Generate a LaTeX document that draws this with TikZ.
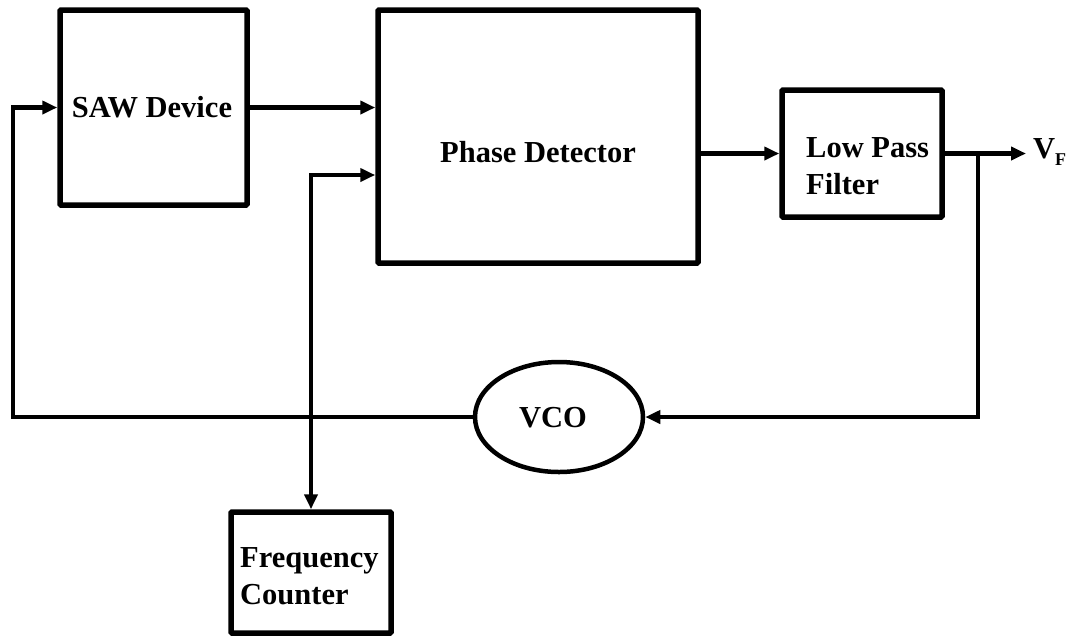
\documentclass[tikz,border=0pt]{standalone}
\usepackage{fontspec}
\setmainfont{Liberation Serif}
\usetikzlibrary{arrows.meta,shapes.geometric}
\begin{document}
\begin{tikzpicture}[x=1pt,y=-1pt,
  blk/.style={draw,line width=5.5pt,rounded corners=1pt,inner sep=0pt},
  wire/.style={line width=4.2pt,line join=miter},
  tip/.tip={Triangle[length=15pt,width=13pt]},
  conn/.style={wire,-tip},
  lbl/.style={font=\fontsize{30.5}{37}\selectfont\bfseries,inner sep=0pt}]
\useasboundingbox (0,0) rectangle (1075,641);
% blocks
\node[blk,minimum width=187pt,minimum height=195pt] (saw) at (153.5,107.5) {};
\node[lbl] (sawt) at (152,107) {SAW Device};
\node[blk,minimum width=320pt,minimum height=253pt] (pd) at (538,136.5) {};
\node[lbl] (pdt) at (538,152) {Phase Detector};
\node[blk,minimum width=160pt,minimum height=127pt] (lpf) at (862,153.5) {};
\node[lbl,align=left,anchor=west] (lpft) at (806,166) {Low Pass\\Filter};
\node[blk,minimum width=160pt,minimum height=121pt] (fc) at (311,572.5) {};
\node[lbl,align=left,anchor=west] (fct) at (240,576) {Frequency\\Counter};
\node[draw,ellipse,line width=4.5pt,minimum width=168pt,minimum height=110pt,inner sep=0pt] (vco) at (559,417) {};
\node[lbl] (vcot) at (553,418) {VCO};
\node[lbl,anchor=west] (vf) at (1033,152) {V\raisebox{-7pt}{\fontsize{18}{18}\selectfont F}};
% connector points
\coordinate (fbL) at (13,417);
\coordinate (inL) at (13,107.5);
\coordinate (j) at (311,175);
\coordinate (b) at (978,153.5);
\coordinate (br) at (978,417);
\coordinate (vfin) at (1026,153.5);
% connectors
\draw[conn] (vco.west) -- (fbL) -- (inL) -- (saw.west);
\draw[conn] (saw.east) -- (saw.east -| pd.west);
\draw[wire,tip-tip] (fc.north) -- (j) -- (j -| pd.west);
\draw[conn] (pd.east |- lpf.west) -- (lpf.west);
\draw[conn] (lpf.east) -- (vfin);
\draw[conn] (b) -- (br) -- (vco.east);
\end{tikzpicture}
\end{document}
